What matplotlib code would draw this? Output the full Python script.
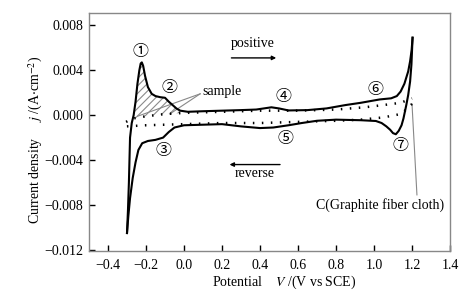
import numpy as np
import matplotlib
matplotlib.use("Agg")
import matplotlib.pyplot as plt
from matplotlib.patches import Polygon

plt.rcParams['font.family'] = ['Liberation Serif', 'Noto Sans CJK SC', 'DejaVu Sans']
plt.rcParams['mathtext.fontset'] = 'stix'

# ---- data ----
fwd_x = [-0.300, -0.295, -0.290, -0.284, -0.275, -0.265, -0.255, -0.245, -0.235, -0.228,
         -0.222, -0.215, -0.205, -0.190, -0.170, -0.150, -0.125, -0.100, -0.080, -0.060,
         -0.040, -0.020, 0.020, 0.100, 0.200, 0.300, 0.380, 0.420, 0.460, 0.500,
         0.550, 0.650, 0.750, 0.850, 0.930, 1.030, 1.090, 1.120, 1.140, 1.160,
         1.180, 1.190, 1.198, 1.203]
fwd_y = [-0.0105, -0.0085, -0.0060, -0.0020, -0.0007, 0.0000, 0.0012, 0.0028, 0.0040, 0.0046,
         0.0047, 0.0044, 0.0035, 0.0025, 0.0019, 0.0017, 0.0016, 0.00155, 0.0012, 0.0009,
         0.0006, 0.0004, 0.0003, 0.00035, 0.0004, 0.00045, 0.0005, 0.0006, 0.0007, 0.0006,
         0.00042, 0.00045, 0.0006, 0.0009, 0.0011, 0.0014, 0.0015, 0.0017, 0.0021, 0.0028,
         0.0039, 0.0048, 0.0058, 0.0069]

rev_x = [1.203, 1.197, 1.190, 1.180, 1.170, 1.155, 1.145, 1.130, 1.115, 1.100,
         1.085, 1.065, 1.040, 1.010, 0.930, 0.800, 0.700, 0.620, 0.550, 0.470,
         0.400, 0.300, 0.200, 0.100, 0.000, -0.050, -0.080, -0.110, -0.150, -0.190,
         -0.220, -0.240, -0.255, -0.270, -0.284, -0.293, -0.300]
rev_y = [0.0069, 0.0045, 0.0030, 0.0018, 0.0009, -0.0003, -0.0009, -0.0014, -0.0017, -0.0016,
         -0.0013, -0.0010, -0.0007, -0.00052, -0.00045, -0.0004, -0.0005, -0.0007, -0.0009, -0.0011,
         -0.00115, -0.0010, -0.0008, -0.00085, -0.0009, -0.0011, -0.0015, -0.0020, -0.0022, -0.0023,
         -0.0025, -0.0031, -0.0042, -0.0056, -0.0074, -0.0090, -0.0105]

cloth_fwd_x = [-0.305, -0.270, -0.200, -0.100, 0.000, 0.200, 0.400, 0.600, 0.800, 0.950, 1.050, 1.140, 1.200]
cloth_fwd_y = [-0.0006, -0.0003, -0.0001, 0.0001, 0.0002, 0.0003, 0.0004, 0.0004, 0.0005, 0.0007, 0.0009, 0.0011, 0.0015]
cloth_rev_x = [1.200, 1.170, 1.140, 1.050, 0.930, 0.800, 0.600, 0.400, 0.200, 0.000, -0.200, -0.305]
cloth_rev_y = [0.0010, 0.0005, 0.0001, -0.0002, -0.0004, -0.0005, -0.0006, -0.0007, -0.0007, -0.0008, -0.0009, -0.0010]

xticks = [-0.4, -0.2, 0.0, 0.2, 0.4, 0.6, 0.8, 1.0, 1.2, 1.4]
yticks = [-0.012, -0.008, -0.004, 0.000, 0.004, 0.008]

W, H = 473, 298
fig = plt.figure(figsize=(W/100, H/100), dpi=100)
ax = fig.add_axes([89/W, 1-251/H, (450-89)/W, (251-13)/H])

# hatched area between sample forward curve and cloth forward curve
fx = np.array(fwd_x); fy = np.array(fwd_y)
m = (fx >= -0.27) & (fx <= -0.02)
px = fx[m]; py = fy[m]
dy = np.interp(px, cloth_fwd_x, cloth_fwd_y)
verts = np.column_stack([np.concatenate([px, px[::-1]]), np.concatenate([py, dy[::-1]])])
clip_poly = Polygon(verts, closed=True, facecolor='none', edgecolor='none')
clip_poly.set_transform(ax.transData)
for c in np.arange(-W, H, 7.5):
    ln, = ax.plot([0, 1], [c / H, (c + W) / H], transform=fig.transFigure,
                  color='#8a8a8a', lw=0.8, zorder=1)
    ln.set_clip_path(clip_poly)

ax.plot(fwd_x, fwd_y, color='black', lw=1.5, solid_joinstyle='round', zorder=3)
ax.plot(rev_x, rev_y, color='black', lw=1.5, solid_joinstyle='round', zorder=3)
ax.plot(cloth_fwd_x, cloth_fwd_y, color='black', lw=1.8, linestyle=(0, (0.6, 3.0)), zorder=3)
ax.plot(cloth_rev_x, cloth_rev_y, color='black', lw=1.8, linestyle=(0, (0.6, 3.0)), zorder=3)

ax.set_xlim(-0.5, 1.4)
ax.set_ylim(-0.0121, 0.0091)
ax.set_xticks(xticks)
ax.set_yticks(yticks)
ax.set_xticklabels([f"{t:.1f}".replace('-', '\u2212') for t in xticks])
ax.set_yticklabels([f"{t:.3f}".replace('-', '\u2212') for t in yticks])
ax.tick_params(direction='in', length=4, width=1, labelsize=10, colors='black', pad=4)
ax.tick_params(axis='x', pad=6)
for s in ax.spines.values():
    s.set_color('#888888')
    s.set_linewidth(1.0)

circ = ['Noto Sans CJK SC', 'DejaVu Sans']
labels = [('\u2460', -0.228, 0.00565), ('\u2461', -0.074, 0.0025), ('\u2462', -0.109, -0.00315),
          ('\u2463', 0.523, 0.0017), ('\u2464', 0.532, -0.0021), ('\u2465', 1.01, 0.0023),
          ('\u2466', 1.137, -0.0027)]
for t, x, y in labels:
    ax.text(x, y, t, family=circ, fontsize=11.5, ha='center', va='center', color='black')

ax.text(0.363, 0.0064, 'positive', fontsize=10, ha='center', va='center')
ax.annotate('', xy=(0.50, 0.0051), xytext=(0.235, 0.0051),
            arrowprops=dict(arrowstyle='-|>', color='black', lw=1.0, mutation_scale=6))
ax.text(0.374, -0.0052, 'reverse', fontsize=10, ha='center', va='center')
ax.annotate('', xy=(0.225, -0.0044), xytext=(0.52, -0.0044),
            arrowprops=dict(arrowstyle='-|>', color='black', lw=1.0, mutation_scale=6))

ax.text(0.095, 0.0021, 'sample', fontsize=10, ha='left', va='center')
ax.plot([0.085, -0.245], [0.0019, -0.0001], color='#888888', lw=0.8)
ax.plot([0.085, -0.075], [0.0019, 0.0001], color='#888888', lw=0.8)

ax.text(1.03, -0.0080, 'C(Graphite fiber cloth)', fontsize=10, ha='center', va='center')
ax.plot([1.200, 1.226], [0.0010, -0.0071], color='#888888', lw=0.8)

fig.text(284.5/W, 1-282/H, 'Potential    $V$ /(V vs SCE)', fontsize=10, ha='center', va='center')
fig.text(36/W, 1-140/H, 'Current density     $j$ /(A$\\cdot$cm$^{-2}$)', fontsize=10,
         ha='center', va='center', rotation=90)

fig.savefig('out.png', dpi=100)
